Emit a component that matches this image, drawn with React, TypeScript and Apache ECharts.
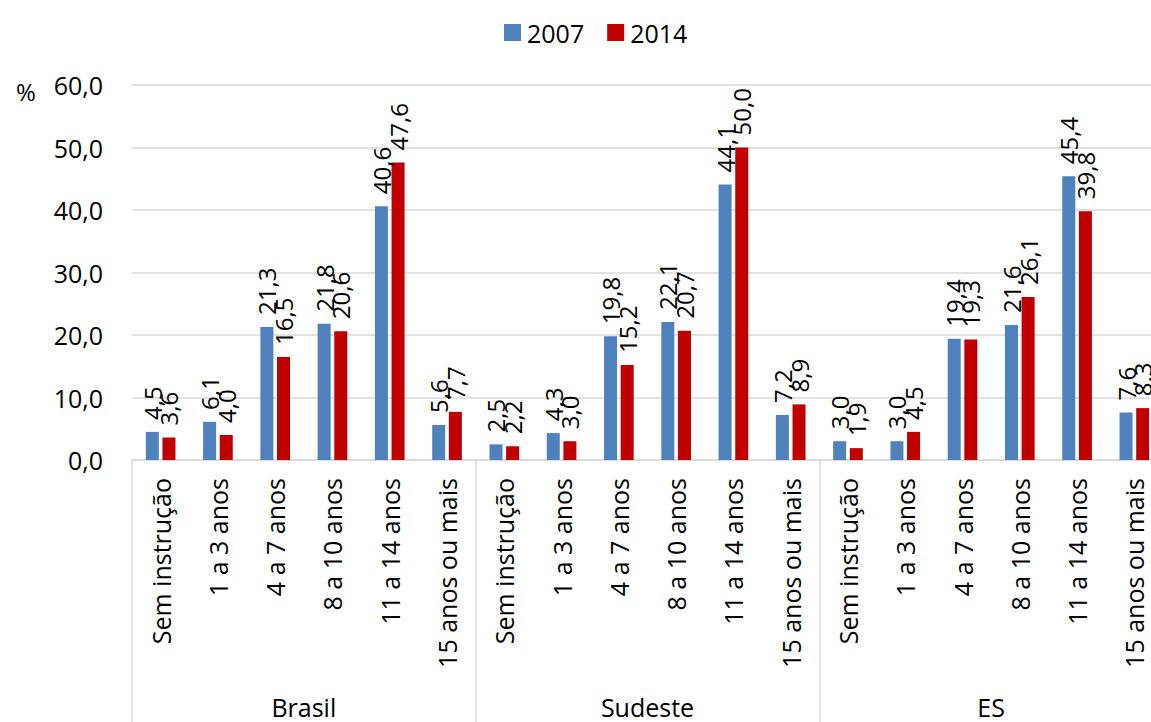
import React, { useEffect, useRef } from "react";
import * as echarts from "echarts";

const categories = [
  "Sem instrução", "1 a 3 anos", "4 a 7 anos", "8 a 10 anos", "11 a 14 anos", "15 anos ou mais",
  "Sem instrução", "1 a 3 anos", "4 a 7 anos", "8 a 10 anos", "11 a 14 anos", "15 anos ou mais",
  "Sem instrução", "1 a 3 anos", "4 a 7 anos", "8 a 10 anos", "11 a 14 anos", "15 anos ou mais",
];
const groups = ["Brasil", "Sudeste", "ES"];
const values2007 = [4.5, 6.1, 21.3, 21.8, 40.6, 5.6, 2.5, 4.3, 19.8, 22.1, 44.1, 7.2, 3.0, 3.0, 19.4, 21.6, 45.4, 7.6];
const values2014 = [3.6, 4.0, 16.5, 20.6, 47.6, 7.7, 2.2, 3.0, 15.2, 20.7, 50.0, 8.9, 1.9, 4.5, 19.3, 26.1, 39.8, 8.3];

const FONT = "Open Sans";
const fmt = (v: number) => v.toFixed(1).replace(".", ",");

export default function App() {
  const ref = useRef<HTMLDivElement>(null);
  useEffect(() => {
    if (!ref.current) return;
    const chart = echarts.init(ref.current, undefined, { renderer: "svg" });
    const labelCfg = {
      show: true,
      position: "top" as const,
      rotate: 90,
      align: "left" as const,
      verticalAlign: "middle" as const,
      distance: 12,
      fontFamily: FONT,
      fontSize: 24,
      color: "#000",
      formatter: (p: any) => fmt(p.value),
    };
    chart.setOption({
      animation: false,
      backgroundColor: "#fff",
      textStyle: { fontFamily: FONT },
      title: {
        text: "%",
        left: 11,
        top: 74,
        textStyle: { fontFamily: FONT, fontSize: 24, fontWeight: "normal", color: "#000" },
      },
      legend: {
        left: 499,
        top: 15,
        itemWidth: 17,
        itemHeight: 17,
        itemGap: 23,
        icon: "rect",
        textStyle: { fontFamily: FONT, fontSize: 25, color: "#000", padding: [0, 0, 0, 1] },
        data: ["2007", "2014"],
      },
      grid: { left: 132, top: 85, width: 1031, height: 375 },
      xAxis: [
        {
          type: "category",
          data: categories,
          axisLine: { show: true, lineStyle: { color: "#d9d9d9", width: 1.5 } },
          axisTick: { show: false },
          axisLabel: {
            interval: 0,
            rotate: 90,
            margin: 18,
            fontFamily: FONT,
            fontSize: 25,
            color: "#000",
          },
        },
        {
          type: "category",
          data: groups,
          position: "bottom",
          gridIndex: 0,
          axisLine: { show: false },
          axisTick: { show: true, length: 262, lineStyle: { color: "#d9d9d9", width: 1.5 } },
          axisLabel: {
            interval: 0,
            margin: 234,
            fontFamily: FONT,
            fontSize: 25,
            color: "#000",
          },
        },
      ],
      yAxis: {
        type: "value",
        min: 0,
        max: 60,
        interval: 10,
        axisLine: { show: false },
        axisTick: { show: false },
        splitLine: { lineStyle: { color: "#d9d9d9", width: 1.5 } },
        axisLabel: {
          margin: 29,
          fontFamily: FONT,
          fontSize: 25,
          color: "#000",
          formatter: (v: number) => fmt(v),
        },
      },
      series: [
        {
          name: "2007",
          type: "bar",
          data: values2007,
          barWidth: 13,
          barGap: "28%",
          itemStyle: { color: "#4f81bd" },
          label: labelCfg,
        },
        {
          name: "2014",
          type: "bar",
          data: values2014,
          barWidth: 13,
          barGap: "28%",
          itemStyle: { color: "#c00000" },
          label: labelCfg,
        },
      ],
    });
    return () => chart.dispose();
  }, []);
  return (
    <div
      style={{ position: "fixed", left: 0, top: 0, width: 1151, height: 722, overflow: "hidden", background: "#fff" }}
    >
      <div ref={ref} style={{ width: 1163, height: 722 }} />
    </div>
  );
}
